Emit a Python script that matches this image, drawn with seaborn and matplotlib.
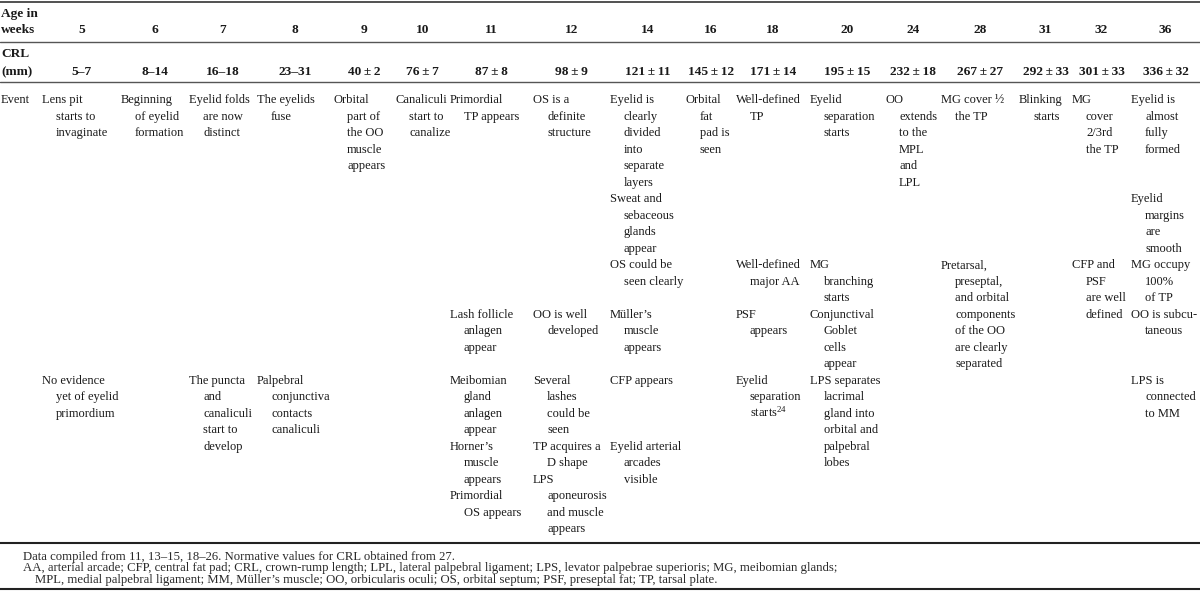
import matplotlib
matplotlib.use("Agg")
import matplotlib.pyplot as plt
import seaborn as sns

# ---------------- data ----------------
weeks = ["5", "6", "7", "8", "9", "10", "11", "12", "14", "16", "18", "20",
         "24", "28", "31", "32", "36"]
crl = ["5–7", "8–14", "16–18", "23–31",
       "40\u2009±\u20092", "76\u2009±\u20097", "87\u2009±\u20098", "98\u2009±\u20099",
       "121\u2009±\u200911", "145\u2009±\u200912", "171\u2009±\u200914",
       "195\u2009±\u200915", "232\u2009±\u200918", "267\u2009±\u200927",
       "292\u2009±\u200933", "301\u2009±\u200933", "336\u2009±\u200932"]

events_row1 = [
    ["Lens pit\nstarts to\ninvaginate"],
    ["Beginning\nof eyelid\nformation"],
    ["Eyelid folds\nare now\ndistinct"],
    ["The eyelids\nfuse"],
    ["Orbital\npart of\nthe OO\nmuscle\nappears"],
    ["Canaliculi\nstart to\ncanalize"],
    ["Primordial\nTP appears"],
    ["OS is a\ndefinite\nstructure"],
    ["Eyelid is\nclearly\ndivided\ninto\nseparate\nlayers"],
    ["Orbital\nfat\npad is\nseen"],
    ["Well-defined\nTP"],
    ["Eyelid\nseparation\nstarts"],
    ["OO\nextends\nto the\nMPL\nand\nLPL"],
    ["MG cover ½\nthe TP"],
    ["Blinking\nstarts"],
    ["MG\ncover\n2/3rd\nthe TP"],
    ["Eyelid is\nalmost\nfully\nformed"],
]
events_row2 = [[], [], [], [], [], [], [], [],
               ["Sweat and\nsebaceous\nglands\nappear"],
               [], [], [], [], [], [], [],
               ["Eyelid\nmargins\nare\nsmooth"]]
events_row3 = [[], [], [], [], [], [], [], [],
               ["OS could be\nseen clearly"],
               [],
               ["Well-defined\nmajor AA"],
               ["MG\nbranching\nstarts"],
               [],
               ["Pretarsal,\npreseptal,\nand orbital\ncomponents\nof the OO\nare clearly\nseparated"],
               [],
               ["CFP and\nPSF\nare well\ndefined"],
               ["MG occupy\n100%\nof TP"]]
events_row4 = [[], [], [], [], [], [],
               ["Lash follicle\nanlagen\nappear"],
               ["OO is well\ndeveloped"],
               ["Müller’s\nmuscle\nappears"],
               [],
               ["PSF\nappears"],
               ["Conjunctival\nGoblet\ncells\nappear"],
               [], [], [], [],
               ["OO is subcu-\ntaneous"]]
events_row5 = [["No evidence\nyet of eyelid\nprimordium"],
               [],
               ["The puncta\nand\ncanaliculi\nstart to\ndevelop"],
               ["Palpebral\nconjunctiva\ncontacts\ncanaliculi"],
               [], [],
               ["Meibomian\ngland\nanlagen\nappear"],
               ["Several\nlashes\ncould be\nseen"],
               ["CFP appears"],
               [],
               ["Eyelid\nseparation\nstarts$^{\\mathrm{24}}$"],
               ["LPS separates\nlacrimal\ngland into\norbital and\npalpebral\nlobes"],
               [], [], [], [],
               ["LPS is\nconnected\nto MM"]]
events_row6 = [[], [], [], [], [], [],
               ["Horner’s\nmuscle\nappears", "Primordial\nOS appears"],
               ["TP acquires a\nD shape", "LPS\naponeurosis\nand muscle\nappears"],
               ["Eyelid arterial\narcades\nvisible"],
               [], [], [], [], [], [], [], []]
event_rows = [events_row1, events_row2, events_row3, events_row4,
              events_row5, events_row6]

footnotes = [
    "Data compiled from 11, 13–15, 18–26. Normative values for CRL obtained from 27.",
    "AA, arterial arcade; CFP, central fat pad; CRL, crown-rump length; LPL, lateral palpebral ligament; "
    "LPS, levator palpebrae superioris; MG, meibomian glands;",
    "MPL, medial palpebral ligament; MM, Müller’s muscle; OO, orbicularis oculi; OS, orbital septum; "
    "PSF, preseptal fat; TP, tarsal plate.",
]

# ---------------- layout ----------------
col_left = [42, 121, 189, 257, 333, 395, 450, 533, 610, 686, 736, 810, 885,
            941, 1019, 1072, 1131]
right_edge = 1200
row_height_lines = [6, 4, 3, 4, 4, 4]
line_step = 16.5
first_line_y = 99
indent = 14
base_off = 4.3
txt_color = "#1a1a1a"
rule_color = "#333333"

sns.set_theme(style="white")
plt.rcParams["font.family"] = ["Liberation Serif", "DejaVu Serif"]
plt.rcParams["mathtext.fontset"] = "custom"
plt.rcParams["mathtext.rm"] = "Liberation Serif"
plt.rcParams["mathtext.it"] = "Liberation Serif:italic"
plt.rcParams["mathtext.bf"] = "Liberation Serif:bold"

fig = plt.figure(figsize=(12, 6.03), dpi=100)
ax = fig.add_axes([0, 0, 1, 1])
ax.set_xlim(0, 1200)
ax.set_ylim(603, 0)
ax.axis("off")

body_fs = 9.0
head_fs = 9.6
foot_fs = 9.2

# rules
ax.axhline(1.5, color=rule_color, lw=1.2)
ax.axhline(42, color="#555555", lw=1.0)
ax.axhline(82, color="#555555", lw=1.0)
ax.axhline(543, color="#222222", lw=1.5)
ax.axhline(589, color="#222222", lw=1.5)

# header labels
ax.text(1, 13 + base_off, "Age in", fontsize=head_fs, fontweight="bold",
        color=txt_color, va="baseline", ha="left")
ax.text(1, 29 + base_off, "weeks", fontsize=head_fs, fontweight="bold",
        color=txt_color, va="baseline", ha="left")
ax.text(1, 53 + base_off, "CRL", fontsize=head_fs, fontweight="bold",
        color=txt_color, va="baseline", ha="left")
ax.text(1, 71 + base_off, "(mm)", fontsize=head_fs, fontweight="bold",
        color=txt_color, va="baseline", ha="left")
ax.text(1, first_line_y + base_off, "Event", fontsize=body_fs,
        color=txt_color, va="baseline", ha="left")

edges = col_left + [right_edge]
for i, (w, c) in enumerate(zip(weeks, crl)):
    xc = (edges[i] + edges[i + 1]) / 2
    ax.text(xc, 29 + base_off, w, fontsize=head_fs, fontweight="bold",
            color=txt_color, va="baseline", ha="center")
    ax.text(xc, 71 + base_off, c, fontsize=head_fs, fontweight="bold",
            color=txt_color, va="baseline", ha="center")

# events
row_start = 0
for r, row in enumerate(event_rows):
    for ci, cell in enumerate(row):
        li = row_start
        for entry in cell:
            for k, line in enumerate(entry.split("\n")):
                x = col_left[ci] + (0 if k == 0 else indent)
                y = first_line_y + line_step * li + base_off
                ax.text(x, y, line, fontsize=body_fs, color=txt_color,
                        va="baseline", ha="left")
                li += 1
    row_start += row_height_lines[r]

# footnotes
foot_x = [23, 23, 35]
foot_y = [556, 567.7, 579]
for fx, fy, t in zip(foot_x, foot_y, footnotes):
    ax.text(fx, fy + 3.8, t, fontsize=foot_fs, color="#2a2a2a",
            va="baseline", ha="left")

fig.savefig("out.png", dpi=100, facecolor="white")
